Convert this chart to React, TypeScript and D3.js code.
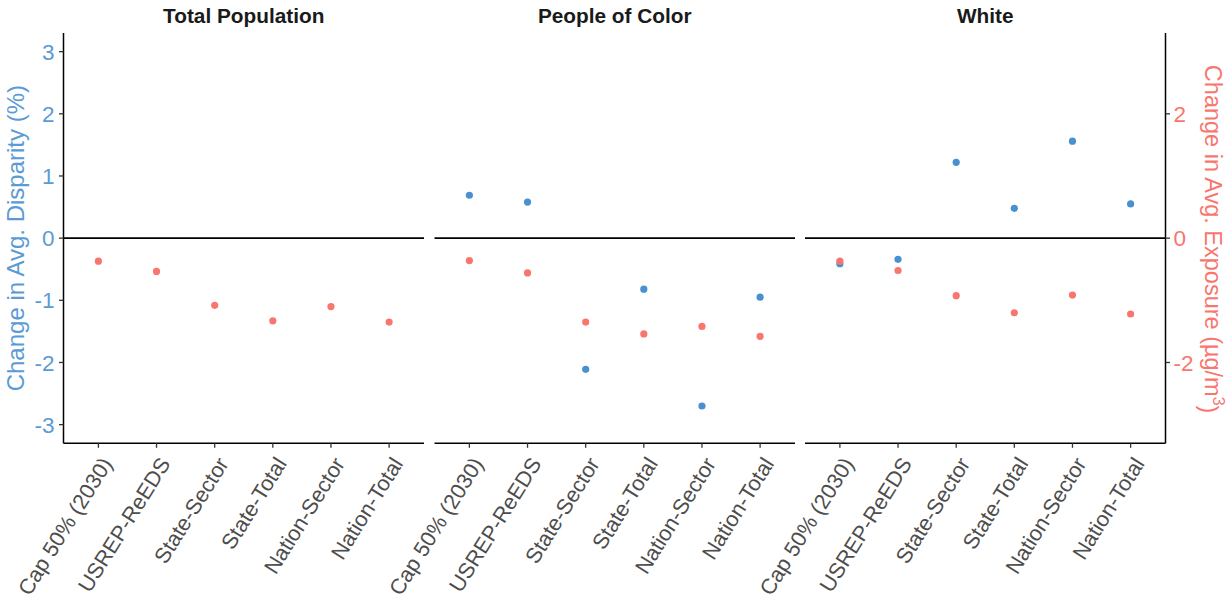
import React from "react";
import * as d3 from "d3";

const categories = ["Cap 50% (2030)", "USREP-ReEDS", "State-Sector", "State-Total", "Nation-Sector", "Nation-Total"];
const panels = ["Total Population", "People of Color", "White"];

// Change in Avg. Disparity (%) — blue (null = not shown)
const disparityTotal: (number | null)[] = [null, null, null, null, null, null];
const disparityPOC = [0.69, 0.58, -2.11, -0.82, -2.70, -0.95];
const disparityWhite = [-0.41, -0.34, 1.22, 0.48, 1.56, 0.55];

// Change in Avg. Exposure (µg/m3) — red
const exposureTotal = [-0.37, -0.535, -1.08, -1.33, -1.10, -1.35];
const exposurePOC = [-0.36, -0.56, -1.35, -1.54, -1.42, -1.58];
const exposureWhite = [-0.37, -0.52, -0.925, -1.20, -0.915, -1.22];

const leftTicks = [-3, -2, -1, 0, 1, 2, 3];
const rightTicks = [-2, 0, 2];

const disparity = [disparityTotal, disparityPOC, disparityWhite];
const exposure = [exposureTotal, exposurePOC, exposureWhite];

const W = 1231;
const H = 605;
const BLUE = "#4a90d0";
const RED = "#f8766d";
const BLUE_TXT = "#5b9bd5";
const RED_TXT = "#f8766d";
const FONT = "'Liberation Sans', Arial, sans-serif";

export default function App() {
  const top = 33;
  const bottom = 443.3;
  const panelLefts = [63.5, 434.5, 805];
  const panelW = 360.5;

  const y = d3.scaleLinear().domain([-3.3, 3.3]).range([bottom, top]);
  const yRight = d3.scaleLinear().domain([-3.3, 3.3]).range([bottom, top]);

  return (
    <svg
      width={W}
      height={H}
      style={{ position: "absolute", left: 0, top: 0, background: "#fff" }}
      fontFamily={FONT}
    >
      {panels.map((p, pi) => {
        const x0 = panelLefts[pi];
        const x = d3
          .scalePoint<string>()
          .domain(categories)
          .range([x0, x0 + panelW])
          .padding(0.6);
        return (
          <g key={p}>
            <text
              x={x0 + panelW / 2}
              y={22.5}
              textAnchor="middle"
              fontWeight="bold"
              fontSize={20.8}
              fill="#1a1a1a"
            >
              {p}
            </text>
            {/* zero line */}
            <line x1={x0} x2={x0 + panelW} y1={y(0)} y2={y(0)} stroke="#000" strokeWidth={1.8} />
            {/* bottom axis */}
            <line x1={x0} x2={x0 + panelW} y1={bottom} y2={bottom} stroke="#000" strokeWidth={1.5} />
            {categories.map((c) => (
              <g key={c}>
                <line x1={x(c)} x2={x(c)} y1={bottom} y2={bottom + 4.5} stroke="#333" strokeWidth={1.3} />
                <text
                  transform={`translate(${(x(c) as number) + 1.5},${bottom + 12}) rotate(-58)`}
                  textAnchor="end"
                  dy="0.72em"
                  fontSize={21.6}
                  fill="#4d4d4d"
                >
                  {c}
                </text>
              </g>
            ))}
            {/* points: blue first, red on top */}
            {categories.map((c, i) => {
              const v = disparity[pi][i];
              return v == null ? null : (
                <circle key={"b" + c} cx={x(c)} cy={y(v)} r={3.6} fill={BLUE} />
              );
            })}
            {categories.map((c, i) => (
              <circle key={"r" + c} cx={x(c)} cy={yRight(exposure[pi][i])} r={3.6} fill={RED} />
            ))}
          </g>
        );
      })}

      {/* left axis */}
      <line x1={panelLefts[0]} x2={panelLefts[0]} y1={top} y2={bottom} stroke="#000" strokeWidth={1.5} />
      {leftTicks.map((t) => (
        <g key={t}>
          <line x1={panelLefts[0] - 4.5} x2={panelLefts[0]} y1={y(t)} y2={y(t)} stroke="#333" strokeWidth={1.3} />
          <text x={panelLefts[0] - 9} y={y(t)} dy="0.36em" textAnchor="end" fontSize={22.5} fill={BLUE_TXT}>
            {t < 0 ? "-" + Math.abs(t) : t}
          </text>
        </g>
      ))}
      <text
        transform={`translate(24,${(top + bottom) / 2}) rotate(-90)`}
        textAnchor="middle"
        fontSize={24}
        fill={BLUE_TXT}
      >
        Change in Avg. Disparity (%)
      </text>

      {/* right axis */}
      {(() => {
        const xr = panelLefts[2] + panelW;
        return (
          <g>
            <line x1={xr} x2={xr} y1={top} y2={bottom} stroke="#000" strokeWidth={1.5} />
            {rightTicks.map((t) => (
              <g key={t}>
                <line x1={xr} x2={xr + 4.5} y1={yRight(t)} y2={yRight(t)} stroke="#333" strokeWidth={1.3} />
                <text x={xr + 8} y={yRight(t)} dy="0.36em" textAnchor="start" fontSize={22.5} fill={RED_TXT}>
                  {t < 0 ? "-" + Math.abs(t) : t}
                </text>
              </g>
            ))}
            <text
              transform={`translate(1205,${(top + bottom) / 2 + 1}) rotate(90)`}
              textAnchor="middle"
              fontSize={23.5}
              fill={RED_TXT}
            >
              Change in Avg. Exposure (µg/m
              <tspan dy="-0.5em" fontSize={16}>3</tspan>
              <tspan dy="0.5em">)</tspan>
            </text>
          </g>
        );
      })()}
    </svg>
  );
}
